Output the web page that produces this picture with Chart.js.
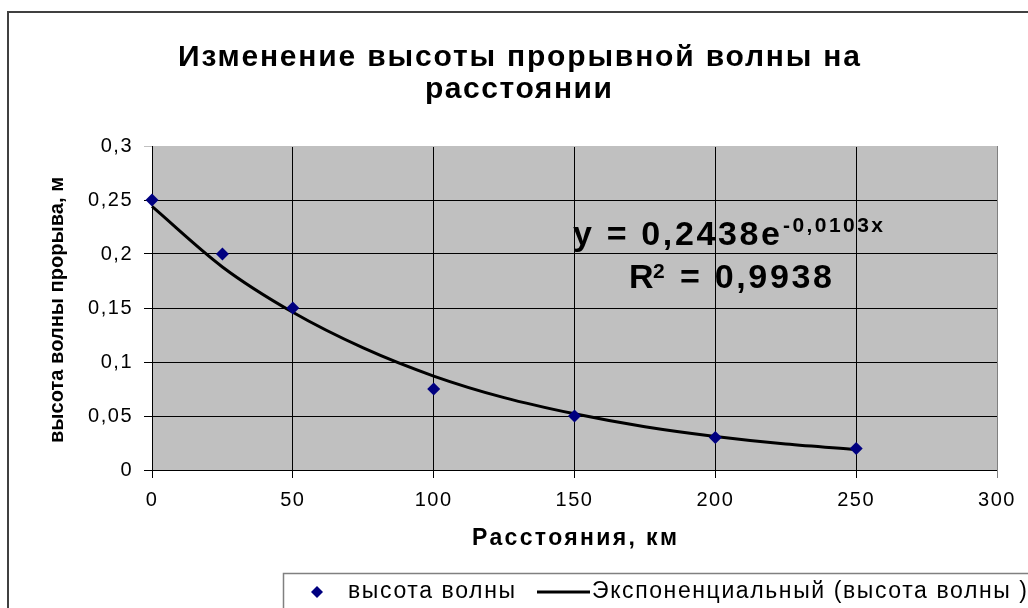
<!DOCTYPE html>
<html lang="ru">
  <head>
    <meta charset="UTF-8" />
    <script src="https://cdn.jsdelivr.net/npm/chart.js"></script>
    <title>Высота прорывной волны</title>
    <style>
      body { margin: 0; background: #fff; }
      #wrap { width: 1028px; height: 608px; }
    </style>
  </head>
  <body>
    <div id="wrap"><canvas id="myChartCanvas" width="1028" height="608"></canvas></div>
  </body>
</html>
<script>
  // точки измерений
  var rasstoyanie = [0, 25, 50, 100, 150, 200, 250];
  var vysota = [0.25, 0.2, 0.15, 0.075, 0.05, 0.03, 0.02];

  // линия тренда
  var trendX = [0, 25, 50, 75, 100, 125, 150, 175, 200, 225, 250];
  var trendY = [0.244, 0.188, 0.146, 0.113, 0.087, 0.067, 0.052, 0.040, 0.031, 0.024, 0.019];

  var xTicks = [0, 50, 100, 150, 200, 250, 300];
  var yTicks = [0, 0.05, 0.1, 0.15, 0.2, 0.25, 0.3];

  var FONT = '"Liberation Sans", Arial, sans-serif';

  // рисует текст, растянутый на заданную ширину (как в Excel)
  function textFit(ctx, text, x, y, width, font) {
    ctx.font = font;
    ctx.letterSpacing = "0px";
    var w = ctx.measureText(text).width;
    var sp = (width - w) / Math.max(text.length - 1, 1);
    ctx.letterSpacing = sp + "px";
    ctx.textAlign = "left";
    ctx.textBaseline = "alphabetic";
    ctx.fillText(text, x, y);
    ctx.letterSpacing = "0px";
  }

  var decor = {
    id: "decor",
    beforeDraw: function (chart) {
      var ctx = chart.ctx;
      var a = chart.chartArea;
      ctx.save();
      ctx.fillStyle = "#fff";
      ctx.fillRect(0, 0, chart.width, chart.height);
      ctx.fillStyle = "#c0c0c0";
      ctx.fillRect(a.left, a.top, a.right - a.left, a.bottom - a.top);
      ctx.restore();
      ctx.letterSpacing = "1.5px";
    },
    afterDraw: function (chart) {
      var ctx = chart.ctx;
      ctx.letterSpacing = "0px";
      ctx.save();
      ctx.fillStyle = "#000";

      // рамка диаграммы
      ctx.strokeStyle = "#404040";
      ctx.lineWidth = 2;
      ctx.beginPath();
      ctx.moveTo(8, 608);
      ctx.lineTo(8, 12);
      ctx.lineTo(1028, 12);
      ctx.stroke();

      // заголовок
      textFit(ctx, "Изменение высоты прорывной волны на", 178, 66, 682, "bold 30px " + FONT);
      textFit(ctx, "расстоянии", 425, 98, 187, "bold 30px " + FONT);

      // подписи осей
      textFit(ctx, "Расстояния, км", 472, 545, 205, "bold 23px " + FONT);
      ctx.save();
      ctx.translate(63, 443);
      ctx.rotate(-Math.PI / 2);
      textFit(ctx, "высота волны прорыва, м", 0, 0, 266, "bold 20px " + FONT);
      ctx.restore();

      // уравнение тренда
      textFit(ctx, "y = 0,2438e", 573, 245, 207, "bold 34px " + FONT);
      textFit(ctx, "-0,0103x", 783, 232, 100, "bold 21px " + FONT);
      textFit(ctx, "R", 629, 288, 22, "bold 34px " + FONT);
      textFit(ctx, "2", 653, 278, 12, "bold 21px " + FONT);
      textFit(ctx, "= 0,9938", 680, 288, 152, "bold 34px " + FONT);

      // легенда
      ctx.strokeStyle = "#808080";
      ctx.lineWidth = 1.5;
      ctx.strokeRect(283.5, 573.5, 800, 100);
      ctx.fillStyle = "#000080";
      ctx.beginPath();
      ctx.moveTo(317, 586);
      ctx.lineTo(323, 592);
      ctx.lineTo(317, 598);
      ctx.lineTo(311, 592);
      ctx.closePath();
      ctx.fill();
      ctx.fillStyle = "#000";
      textFit(ctx, "высота волны", 348, 598, 167, "23px " + FONT);
      ctx.strokeStyle = "#000";
      ctx.lineWidth = 3;
      ctx.beginPath();
      ctx.moveTo(537, 592);
      ctx.lineTo(590, 592);
      ctx.stroke();
      textFit(ctx, "Экспоненциальный (высота волны )", 592, 598, 435, "23px " + FONT);

      ctx.restore();
    },
  };

  function fmt(v) {
    return String(Math.round(v * 100) / 100).replace(".", ",");
  }

  var dados = {
    datasets: [
      {
        label: "высота волны",
        data: rasstoyanie.map(function (x, i) { return { x: x, y: vysota[i] }; }),
        pointStyle: "rectRot",
        pointRadius: 6.5,
        pointHoverRadius: 6.5,
        backgroundColor: "#000080",
        borderColor: "#000080",
        borderWidth: 0,
        showLine: false,
        clip: false,
        order: 1,
      },
      {
        label: "Экспоненциальный (высота волны )",
        data: trendX.map(function (x, i) { return { x: x, y: trendY[i] }; }),
        showLine: true,
        borderColor: "#000",
        borderWidth: 3,
        pointRadius: 0,
        cubicInterpolationMode: "monotone",
        fill: false,
        clip: false,
        order: 2,
      },
    ],
  };

  var options = {
    responsive: false,
    animation: false,
    events: [],
    layout: { padding: { top: 146, right: 31, left: 0, bottom: 0 } },
    plugins: {
      legend: { display: false },
      title: { display: false },
      tooltip: { enabled: false },
    },
    scales: {
      x: {
        type: "linear",
        min: 0,
        max: 300,
        afterFit: function (s) { s.height = 138; },
        afterBuildTicks: function (s) { s.ticks = xTicks.map(function (v) { return { value: v }; }); },
        grid: {
          color: function (c) { return c.tick && c.tick.value === 300 ? "#808080" : "#000"; },
          lineWidth: 1,
          tickLength: 8,
        },
        border: { display: false },
        ticks: {
          color: "#000",
          font: { family: FONT, size: 20 },
          padding: 10,
          maxRotation: 0,
        },
      },
      y: {
        type: "linear",
        min: 0,
        max: 0.3,
        afterFit: function (s) { s.width = 152; },
        afterBuildTicks: function (s) { s.ticks = yTicks.map(function (v) { return { value: v }; }); },
        grid: {
          color: function (c) { return c.tick && c.tick.value === 0.3 ? "#c0c0c0" : "#000"; },
          lineWidth: 1,
          tickLength: 8,
        },
        border: { display: true, color: "#000" },
        ticks: {
          color: "#000",
          font: { family: FONT, size: 20 },
          padding: 11,
          callback: function (v) { return fmt(v); },
        },
      },
    },
  };

  const config = { type: "scatter", data: dados, options: options, plugins: [decor] };
  let myChart = new Chart(document.getElementById("myChartCanvas"), config);
</script>
